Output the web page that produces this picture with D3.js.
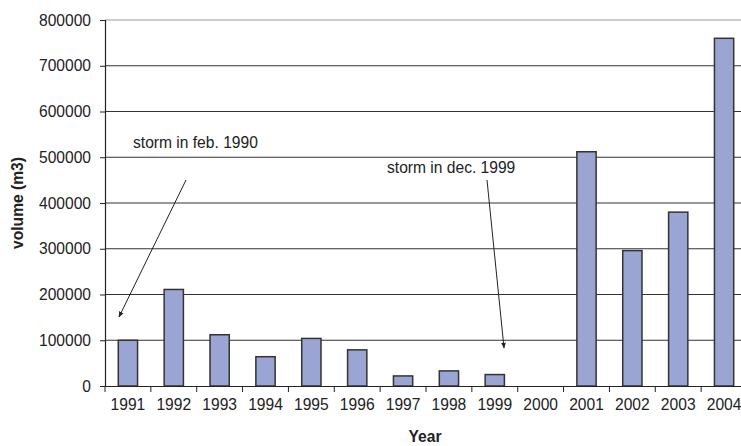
<!DOCTYPE html>
<html>
<head>
<meta charset="utf-8">
<script src="https://cdn.jsdelivr.net/npm/d3@7"></script>
<style>
  body { margin: 0; background: #fff; }
  svg { display: block; font-family: 'Liberation Sans', Arial, sans-serif; }
</style>
</head>
<body>
<div id="chart"></div>
<script>
  const years = ['1991','1992','1993','1994','1995','1996','1997','1998','1999','2000','2001','2002','2003','2004'];
  const volumes = [100000, 211000, 112000, 64000, 104000, 79000, 22000, 33000, 25000, 0, 512000, 296000, 380000, 760000];
  const yTicks = [0, 100000, 200000, 300000, 400000, 500000, 600000, 700000, 800000];

  const notes = [
    { text: 'storm in feb. 1990', tx: 133, ty: 148, from: [186, 180], to: [119, 317] },
    { text: 'storm in dec. 1999', tx: 387, ty: 173, from: [487, 180], to: [504, 348] }
  ];

  const width = 741, height = 446;
  const margin = { top: 20, right: -6, bottom: 60, left: 105 };
  const fs = 15.6;

  const svg = d3.select('#chart').append('svg')
    .attr('width', width)
    .attr('height', height);

  const defs = svg.append('defs');
  defs.append('marker')
    .attr('id', 'arrow')
    .attr('viewBox', '0 0 10 10')
    .attr('refX', 9).attr('refY', 5)
    .attr('markerWidth', 6).attr('markerHeight', 6)
    .attr('orient', 'auto')
    .append('path')
    .attr('d', 'M0,1 L10,5 L0,9 z')
    .attr('fill', '#222');

  const x = d3.scaleBand()
    .domain(years)
    .range([margin.left, width - margin.right])
    .paddingInner(0.58)
    .paddingOuter(0.29);

  const y = d3.scaleLinear()
    .domain([0, 800000])
    .range([height - margin.bottom, margin.top]);

  // gridlines
  svg.append('g')
    .selectAll('line')
    .data(yTicks.filter(d => d > 0))
    .join('line')
    .attr('x1', margin.left)
    .attr('x2', width)
    .attr('y1', d => y(d))
    .attr('y2', d => y(d))
    .attr('stroke', d => d === 800000 ? '#999' : '#333')
    .attr('stroke-width', 1);

  // bars
  svg.append('g')
    .selectAll('rect')
    .data(years.map((yr, i) => ({ yr, v: volumes[i] })).filter(d => d.v > 0))
    .join('rect')
    .attr('x', d => x(d.yr))
    .attr('width', x.bandwidth())
    .attr('y', d => y(d.v))
    .attr('height', d => y(0) - y(d.v))
    .attr('fill', '#9BA5D3')
    .attr('stroke', '#333')
    .attr('stroke-width', 1.5);

  // y axis
  const yAxis = svg.append('g')
    .attr('transform', `translate(${margin.left},0)`)
    .call(d3.axisLeft(y).tickValues(yTicks).tickFormat(d3.format('d')).tickSize(5).tickPadding(9));
  yAxis.select('.domain').attr('stroke', '#222').attr('stroke-width', 1.2);
  yAxis.selectAll('.tick line').attr('stroke', '#222');
  yAxis.selectAll('text').attr('font-size', fs).attr('fill', '#222')
    .style('font-family', "'Liberation Sans', Arial, sans-serif");

  // x axis
  const xAxis = svg.append('g')
    .attr('transform', `translate(0,${y(0)})`)
    .call(d3.axisBottom(x).tickSize(0).tickPadding(13));
  xAxis.select('.domain').attr('stroke', '#222').attr('stroke-width', 1.2);
  xAxis.selectAll('text').attr('font-size', fs).attr('fill', '#222')
    .style('font-family', "'Liberation Sans', Arial, sans-serif");

  // category boundary ticks
  const step = x.step();
  svg.append('g')
    .selectAll('line')
    .data(years)
    .join('line')
    .attr('x1', (d, i) => margin.left + i * step)
    .attr('x2', (d, i) => margin.left + i * step)
    .attr('y1', y(0))
    .attr('y2', y(0) + 6)
    .attr('stroke', '#222');

  // axis titles
  svg.append('text')
    .attr('x', 425)
    .attr('y', 442)
    .attr('text-anchor', 'middle')
    .attr('font-size', fs)
    .attr('font-weight', 'bold')
    .attr('fill', '#222')
    .text('Year');

  svg.append('text')
    .attr('transform', `translate(23,${(margin.top + y(0)) / 2}) rotate(-90)`)
    .attr('text-anchor', 'middle')
    .attr('font-size', fs)
    .attr('font-weight', 'bold')
    .attr('fill', '#222')
    .text('volume (m3)');

  // annotations
  const ann = svg.append('g');
  notes.forEach(n => {
    ann.append('text')
      .attr('x', n.tx)
      .attr('y', n.ty)
      .attr('font-size', fs)
      .attr('fill', '#222')
      .text(n.text);
    ann.append('line')
      .attr('x1', n.from[0]).attr('y1', n.from[1])
      .attr('x2', n.to[0]).attr('y2', n.to[1])
      .attr('stroke', '#222')
      .attr('stroke-width', 1)
      .attr('marker-end', 'url(#arrow)');
  });
</script>
</body>
</html>
